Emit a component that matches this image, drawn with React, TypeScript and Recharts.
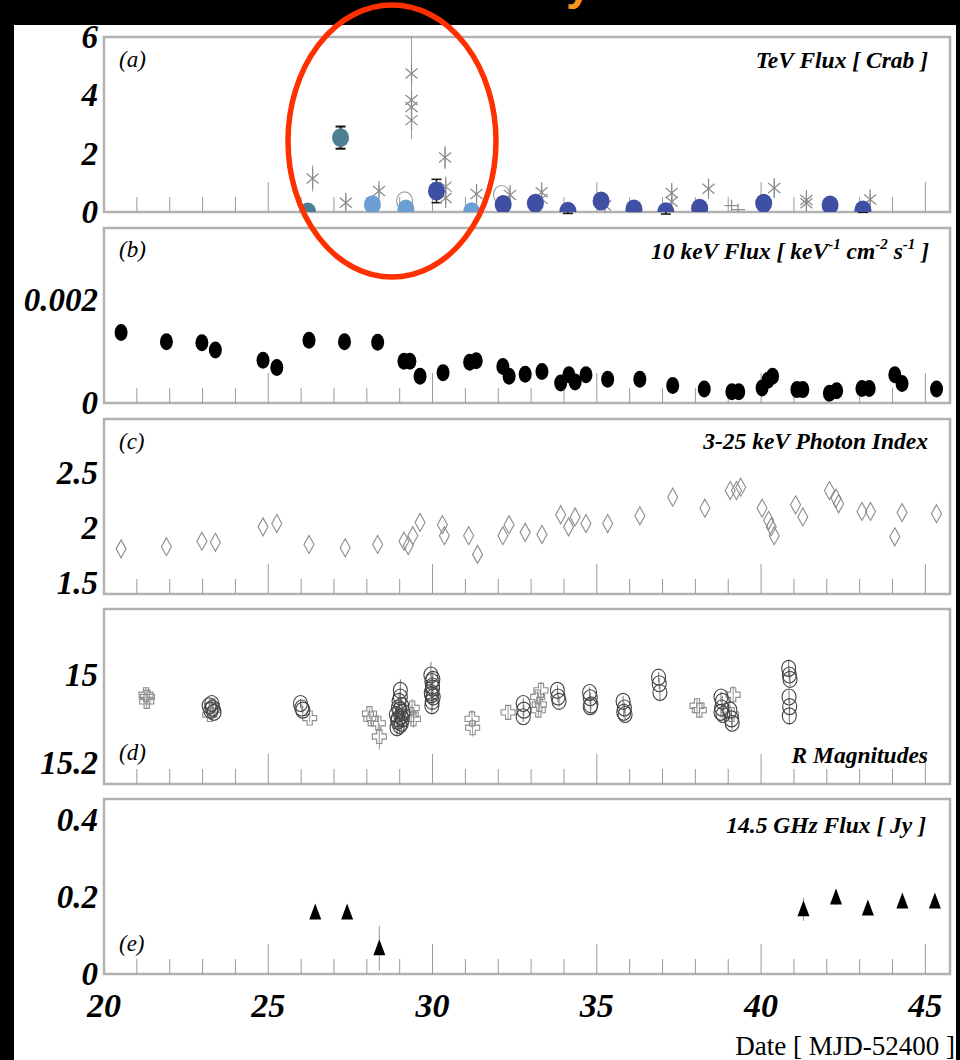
import React from 'react';
import {
  ScatterChart,
  Scatter,
  XAxis,
  YAxis,
  ReferenceLine,
  ReferenceArea,
  ErrorBar,
} from 'recharts';

// ---- shared time axis (MJD - 52400) ----
const X_DOMAIN: [number, number] = [20, 45.75];
const X_LABEL_TICKS = [20, 25, 30, 35, 40, 45];
const X_MINOR_TICKS = [21, 22, 23, 24, 25, 26, 27, 28, 29, 30, 31, 32, 33, 34, 35, 36, 37, 38, 39, 40, 41, 42, 43, 44, 45];

// ---- (a) TeV flux [Crab] ----
const tevTeal = [
  { x: 26.2, y: 0.0, e: 0 },
  { x: 27.2, y: 2.55, e: 0.38 },
];
const tevLight = [
  { x: 28.17, y: 0.25, e: 0 },
  { x: 29.19, y: 0.1, e: 0 },
  { x: 31.19, y: 0.01, e: 0 },
];
const tevNavy = [
  { x: 30.12, y: 0.72, e: 0.4 },
  { x: 32.15, y: 0.26, e: 0.1 },
  { x: 33.13, y: 0.3, e: 0.1 },
  { x: 34.12, y: 0.03, e: 0.08 },
  { x: 35.13, y: 0.38, e: 0.1 },
  { x: 36.13, y: 0.1, e: 0.08 },
  { x: 37.1, y: 0.01, e: 0.08 },
  { x: 38.13, y: 0.13, e: 0.08 },
  { x: 40.08, y: 0.3, e: 0.1 },
  { x: 42.1, y: 0.24, e: 0.08 },
  { x: 43.1, y: 0.07, e: 0.08 },
];
const tevStars = [
  { x: 26.35, y: 1.15, e: 0.45 },
  { x: 27.36, y: 0.32, e: 0.25 },
  { x: 28.37, y: 0.72, e: 0.2 },
  { x: 29.36, y: 4.75, e: 0 },
  { x: 29.36, y: 3.84, e: [1.34, 2.16] },
  { x: 29.36, y: 3.6, e: 0 },
  { x: 29.36, y: 3.15, e: 0 },
  { x: 30.38, y: 1.87, e: 0.4 },
  { x: 30.4, y: 0.87, e: 0.2 },
  { x: 30.4, y: 0.48, e: 0.2 },
  { x: 31.34, y: 0.62, e: 0.2 },
  { x: 32.36, y: 0.58, e: 0.25 },
  { x: 33.32, y: 0.68, e: 0.2 },
  { x: 33.32, y: 0.45, e: 0.2 },
  { x: 35.25, y: 0.22, e: 0.1 },
  { x: 37.28, y: 0.65, e: 0.25 },
  { x: 37.28, y: 0.35, e: 0.2 },
  { x: 38.4, y: 0.8, e: 0.3 },
  { x: 40.4, y: 0.82, e: 0.3 },
  { x: 41.38, y: 0.41, e: 0.15 },
  { x: 41.38, y: 0.3, e: 0.15 },
  { x: 43.32, y: 0.43, e: 0.2 },
];
const tevOpen = [
  { x: 29.15, y: 0.38 },
  { x: 32.1, y: 0.6 },
];
const tevPlus = [
  { x: 39.1, y: 0.22 },
  { x: 39.3, y: 0.08 },
];

// ---- (b) 10 keV flux [keV^-1 cm^-2 s^-1] ----
const xrayFlux = [
  { x: 20.52, y: 0.00137 }, { x: 21.9, y: 0.00119 }, { x: 22.98, y: 0.00117 },
  { x: 23.39, y: 0.00103 }, { x: 24.84, y: 0.00083 }, { x: 25.26, y: 0.00069 },
  { x: 26.24, y: 0.00122 }, { x: 27.32, y: 0.00119 }, { x: 28.33, y: 0.00118 },
  { x: 29.13, y: 0.00081 }, { x: 29.31, y: 0.00081 }, { x: 29.62, y: 0.00052 },
  { x: 30.32, y: 0.00059 }, { x: 31.13, y: 0.00079 }, { x: 31.33, y: 0.00082 },
  { x: 32.14, y: 0.00071 }, { x: 32.33, y: 0.00052 }, { x: 32.82, y: 0.00056 },
  { x: 33.33, y: 0.00061 }, { x: 33.9, y: 0.00039 }, { x: 34.15, y: 0.00055 },
  { x: 34.34, y: 0.00041 }, { x: 34.67, y: 0.00055 }, { x: 35.33, y: 0.00046 },
  { x: 36.31, y: 0.00046 }, { x: 37.31, y: 0.00034 }, { x: 38.27, y: 0.00027 },
  { x: 39.11, y: 0.00022 }, { x: 39.32, y: 0.00022 }, { x: 40.03, y: 0.00029 },
  { x: 40.21, y: 0.00044 }, { x: 40.35, y: 0.00052 }, { x: 41.09, y: 0.00026 },
  { x: 41.27, y: 0.00026 }, { x: 42.08, y: 0.00019 }, { x: 42.3, y: 0.00024 },
  { x: 43.07, y: 0.00028 }, { x: 43.29, y: 0.00028 }, { x: 44.07, y: 0.00055 },
  { x: 44.29, y: 0.00038 }, { x: 45.34, y: 0.00027 },
];

// ---- (c) 3-25 keV photon index ----
const photonIndex = [
  { x: 20.52, y: 1.81 }, { x: 21.9, y: 1.83 }, { x: 22.98, y: 1.88 }, { x: 23.39, y: 1.87 },
  { x: 24.84, y: 2.01 }, { x: 25.26, y: 2.04 }, { x: 26.24, y: 1.85 }, { x: 27.34, y: 1.82 },
  { x: 28.33, y: 1.85 }, { x: 29.13, y: 1.88 }, { x: 29.26, y: 1.84 }, { x: 29.4, y: 1.93 },
  { x: 29.62, y: 2.05 }, { x: 30.3, y: 2.03 }, { x: 30.36, y: 1.93 }, { x: 31.1, y: 1.93 },
  { x: 31.37, y: 1.76 }, { x: 32.14, y: 1.93 }, { x: 32.33, y: 2.03 }, { x: 32.82, y: 1.96 },
  { x: 33.33, y: 1.94 }, { x: 33.9, y: 2.12 }, { x: 34.14, y: 2.01 }, { x: 34.34, y: 2.1 },
  { x: 34.67, y: 2.04 }, { x: 35.33, y: 2.04 }, { x: 36.31, y: 2.11 }, { x: 37.31, y: 2.28 },
  { x: 38.29, y: 2.18 }, { x: 39.06, y: 2.34 }, { x: 39.25, y: 2.34 }, { x: 39.38, y: 2.37 },
  { x: 40.03, y: 2.18 }, { x: 40.23, y: 2.07 }, { x: 40.31, y: 2.01 }, { x: 40.4, y: 1.93 },
  { x: 41.05, y: 2.21 }, { x: 41.27, y: 2.1 }, { x: 42.08, y: 2.34 }, { x: 42.28, y: 2.27 },
  { x: 42.36, y: 2.22 }, { x: 43.07, y: 2.15 }, { x: 43.33, y: 2.15 }, { x: 44.07, y: 1.92 },
  { x: 44.29, y: 2.14 }, { x: 45.34, y: 2.13 },
];

// ---- (d) R magnitudes (two observatories: circles, crosses) ----
const rCircles = [
  { x: 23.2, y: 15.07, e: 0.012 }, { x: 23.25, y: 15.08, e: 0.012 }, { x: 23.3, y: 15.075, e: 0.012 },
  { x: 23.35, y: 15.085, e: 0.012 }, { x: 23.28, y: 15.065, e: 0.012 },
  { x: 25.98, y: 15.065, e: 0.01 }, { x: 26.02, y: 15.075, e: 0.01 }, { x: 26.05, y: 15.08, e: 0.01 },
  { x: 28.9, y: 15.09, e: 0.02 }, { x: 28.95, y: 15.1, e: 0.02 }, { x: 29.0, y: 15.08, e: 0.02 },
  { x: 29.05, y: 15.11, e: 0.02 }, { x: 28.92, y: 15.12, e: 0.02 }, { x: 28.98, y: 15.06, e: 0.02 },
  { x: 29.02, y: 15.05, e: 0.02 }, { x: 29.08, y: 15.1, e: 0.02 }, { x: 29.1, y: 15.085, e: 0.02 },
  { x: 28.96, y: 15.075, e: 0.02 }, { x: 29.04, y: 15.095, e: 0.02 }, { x: 29.0, y: 15.115, e: 0.02 },
  { x: 29.02, y: 15.035, e: 0.025 }, { x: 28.94, y: 15.105, e: 0.02 }, { x: 29.06, y: 15.07, e: 0.02 },
  { x: 29.95, y: 15.0, e: 0.03 }, { x: 29.98, y: 15.015, e: 0.02 }, { x: 30.0, y: 15.03, e: 0.02 },
  { x: 29.96, y: 15.04, e: 0.02 }, { x: 30.02, y: 15.05, e: 0.02 }, { x: 29.99, y: 15.06, e: 0.02 },
  { x: 30.0, y: 15.025, e: 0.02 }, { x: 29.97, y: 15.045, e: 0.02 }, { x: 30.01, y: 15.01, e: 0.02 },
  { x: 29.98, y: 15.07, e: 0.02 },
  { x: 32.76, y: 15.065, e: 0.012 }, { x: 32.78, y: 15.08, e: 0.012 }, { x: 32.76, y: 15.095, e: 0.012 },
  { x: 33.8, y: 15.035, e: 0.012 }, { x: 33.82, y: 15.05, e: 0.012 }, { x: 33.85, y: 15.06, e: 0.012 },
  { x: 34.78, y: 15.04, e: 0.012 }, { x: 34.8, y: 15.052, e: 0.012 }, { x: 34.82, y: 15.068, e: 0.012 },
  { x: 34.8, y: 15.072, e: 0.012 },
  { x: 35.8, y: 15.06, e: 0.012 }, { x: 35.84, y: 15.075, e: 0.012 }, { x: 35.82, y: 15.085, e: 0.012 },
  { x: 35.86, y: 15.09, e: 0.012 },
  { x: 36.88, y: 15.005, e: 0.012 }, { x: 36.9, y: 15.02, e: 0.012 }, { x: 36.92, y: 15.04, e: 0.02 },
  { x: 38.78, y: 15.05, e: 0.012 }, { x: 38.82, y: 15.06, e: 0.012 }, { x: 38.8, y: 15.075, e: 0.012 },
  { x: 38.84, y: 15.09, e: 0.012 }, { x: 38.78, y: 15.085, e: 0.012 },
  { x: 39.05, y: 15.08, e: 0.012 }, { x: 39.1, y: 15.1, e: 0.015 }, { x: 39.12, y: 15.11, e: 0.015 },
  { x: 40.84, y: 14.985, e: 0.02 }, { x: 40.86, y: 15.0, e: 0.015 }, { x: 40.88, y: 15.01, e: 0.015 },
  { x: 40.85, y: 15.05, e: 0.015 }, { x: 40.87, y: 15.072, e: 0.015 }, { x: 40.86, y: 15.093, e: 0.02 },
];
const rCrosses = [
  { x: 21.28, y: 15.045, e: 0.015 }, { x: 21.3, y: 15.06, e: 0.015 }, { x: 21.32, y: 15.05, e: 0.015 },
  { x: 23.22, y: 15.09, e: 0.012 }, { x: 23.3, y: 15.07, e: 0.012 }, { x: 23.33, y: 15.08, e: 0.012 },
  { x: 26.26, y: 15.098, e: 0.01 },
  { x: 28.08, y: 15.088, e: 0.012 }, { x: 28.12, y: 15.1, e: 0.012 },
  { x: 28.35, y: 15.11, e: 0.015 }, { x: 28.38, y: 15.14, e: 0.03 },
  { x: 29.38, y: 15.075, e: 0.02 }, { x: 29.42, y: 15.1, e: 0.02 }, { x: 29.35, y: 15.09, e: 0.02 },
  { x: 31.2, y: 15.1, e: 0.02 }, { x: 31.22, y: 15.12, e: 0.02 },
  { x: 32.3, y: 15.085, e: 0.015 },
  { x: 33.2, y: 15.05, e: 0.015 }, { x: 33.25, y: 15.067, e: 0.015 }, { x: 33.22, y: 15.08, e: 0.015 },
  { x: 33.3, y: 15.035, e: 0.02 },
  { x: 38.05, y: 15.07, e: 0.015 }, { x: 38.12, y: 15.08, e: 0.015 },
  { x: 39.15, y: 15.045, e: 0.02 }, { x: 39.1, y: 15.09, e: 0.015 },
];

// ---- (e) 14.5 GHz flux [Jy] ----
const radioFlux = [
  { x: 26.43, y: 0.16, e: 0.008 },
  { x: 27.4, y: 0.16, e: 0.008 },
  { x: 28.38, y: 0.067, e: 0.058 },
  { x: 41.29, y: 0.168, e: 0.03 },
  { x: 42.28, y: 0.199, e: 0.02 },
  { x: 43.25, y: 0.17, e: 0.015 },
  { x: 44.3, y: 0.188, e: 0.015 },
  { x: 45.29, y: 0.188, e: 0.015 },
];

// ---- layout ----
const PLOT_H = 175;
const M_TOP = 24;
const SERIF = '"Liberation Serif", "Times New Roman", serif';
const FRAME = '#b2b2b2';

// ---- marker shapes ----
const dot = (color: string, rx: number, ry: number) => (p: any) =>
  <ellipse cx={p.cx} cy={p.cy} rx={rx} ry={ry} fill={color} />;

const Asterisk = (p: any) => (
  <g stroke="#8a8a8a" strokeWidth={1.2}>
    <line x1={p.cx} y1={p.cy - 10} x2={p.cx} y2={p.cy + 10} />
    <line x1={p.cx - 6} y1={p.cy - 5} x2={p.cx + 6} y2={p.cy + 5} />
    <line x1={p.cx - 6} y1={p.cy + 5} x2={p.cx + 6} y2={p.cy - 5} />
  </g>
);

const ThinPlus = (p: any) => (
  <g stroke="#8a8a8a" strokeWidth={1.2}>
    <line x1={p.cx - 7} y1={p.cy} x2={p.cx + 7} y2={p.cy} />
    <line x1={p.cx} y1={p.cy - 6} x2={p.cx} y2={p.cy + 6} />
  </g>
);

const Diamond = (p: any) => (
  <path
    d={`M${p.cx},${p.cy - 9} L${p.cx + 5},${p.cy} L${p.cx},${p.cy + 9} L${p.cx - 5},${p.cy} Z`}
    fill="none"
    stroke="#8c8c8c"
    strokeWidth={1.1}
  />
);

const OpenCircle = (color: string, rx: number, ry: number) => (p: any) =>
  <ellipse cx={p.cx} cy={p.cy} rx={rx} ry={ry} fill="none" stroke={color} strokeWidth={1.1} />;

const OpenCross = (p: any) => {
  const a = 2.6;
  const L = 7;
  const { cx, cy } = p;
  const d = `M${cx - a},${cy - L} H${cx + a} V${cy - a} H${cx + L} V${cy + a} H${cx + a} V${cy + L} H${cx - a} V${cy + a} H${cx - L} V${cy - a} H${cx - a} Z`;
  return <path d={d} fill="none" stroke="#8c8c8c" strokeWidth={1.1} />;
};

const Triangle = (p: any) => (
  <path d={`M${p.cx},${p.cy - 9} L${p.cx + 6},${p.cy + 7} L${p.cx - 6},${p.cy + 7} Z`} fill="#000" />
);

// ---- axis tick labels ----
const YTick = (p: any) => (
  <text
    x={98}
    y={p.y}
    dy={11}
    textAnchor="end"
    fontFamily={SERIF}
    fontStyle="italic"
    fontWeight="bold"
    fontSize={33}
    fill="#000"
  >
    {String(p.payload.value)}
  </text>
);

const XTick = (p: any) => (
  <text
    x={p.x}
    y={p.y}
    dy={35}
    textAnchor="middle"
    fontFamily={SERIF}
    fontStyle="italic"
    fontWeight="bold"
    fontSize={34}
    fill="#000"
  >
    {String(p.payload.value)}
  </text>
);

type PanelProps = {
  top: number;
  domain: [number, number];
  yTicks: number[];
  reversed?: boolean;
  showX?: boolean;
  children?: React.ReactNode;
};

function Panel({ top, domain, yTicks, reversed, showX, children }: PanelProps) {
  const [lo, hi] = domain;
  const base = reversed ? hi : lo;
  const perPx = ((hi - lo) / PLOT_H) * (reversed ? -1 : 1);
  const xAxisH = showX ? 56 : 0;
  const mBottom = showX ? 2 : M_TOP;
  const height = M_TOP + PLOT_H + xAxisH + mBottom;
  return (
    <div style={{ position: 'absolute', left: 0, top: top - M_TOP }}>
      <ScatterChart width={960} height={height} margin={{ top: M_TOP, right: 10, bottom: mBottom, left: 14 }}>
        <XAxis
          type="number"
          dataKey="x"
          domain={X_DOMAIN}
          allowDataOverflow
          hide={!showX}
          height={xAxisH}
          ticks={X_LABEL_TICKS}
          interval={0}
          tickLine={false}
          axisLine={false}
          tick={XTick}
        />
        <YAxis
          type="number"
          dataKey="y"
          domain={domain}
          reversed={reversed}
          allowDataOverflow
          ticks={yTicks}
          interval={0}
          width={90}
          tickLine={false}
          axisLine={false}
          tick={YTick}
        />
        <ReferenceArea
          x1={X_DOMAIN[0]}
          x2={X_DOMAIN[1]}
          y1={lo}
          y2={hi}
          fill="none"
          stroke={FRAME}
          strokeWidth={2.5}
          ifOverflow="visible"
        />
        {X_MINOR_TICKS.map((t) => (
          <ReferenceLine
            key={`xt${t}`}
            segment={[
              { x: t, y: base },
              { x: t, y: base + (t % 5 === 0 ? 30 : 15) * perPx },
            ]}
            stroke="#9a9a9a"
            strokeWidth={1}
            ifOverflow="visible"
          />
        ))}
        {children}
      </ScatterChart>
    </div>
  );
}

export default function App() {
  return (
    <div style={{ position: 'absolute', left: 0, top: 0, width: 960, height: 1060, background: '#000', overflow: 'hidden' }}>
      <div style={{ position: 'absolute', left: 14, top: 25, width: 942, height: 1035, background: '#fff' }} />

      {/* (a) TeV flux */}
      <Panel top={37} domain={[0, 6]} yTicks={[0, 2, 4, 6]}>
        <Scatter data={tevStars} shape={Asterisk} isAnimationActive={false}>
          <ErrorBar dataKey="e" direction="y" width={0} stroke="#9a9a9a" strokeWidth={1} />
        </Scatter>
        <Scatter data={tevPlus} shape={ThinPlus} isAnimationActive={false} />
        <Scatter data={tevOpen} shape={OpenCircle('#9a9a9a', 8, 9)} isAnimationActive={false} />
        <Scatter data={tevTeal} shape={dot('#4d7f92', 8.5, 9.5)} isAnimationActive={false}>
          <ErrorBar dataKey="e" direction="y" width={5} stroke="#111" strokeWidth={2} />
        </Scatter>
        <Scatter data={tevLight} shape={dot('#6d9fd3', 8.5, 9.5)} isAnimationActive={false} />
        <Scatter data={tevNavy} shape={dot('#3f4fa3', 8.5, 9.5)} isAnimationActive={false}>
          <ErrorBar dataKey="e" direction="y" width={5} stroke="#111" strokeWidth={1.5} />
        </Scatter>
      </Panel>

      {/* (b) 10 keV flux */}
      <Panel top={228} domain={[0, 0.0034]} yTicks={[0, 0.002]}>
        <Scatter data={xrayFlux} shape={dot('#000', 6.5, 8.5)} isAnimationActive={false} />
      </Panel>

      {/* (c) photon index */}
      <Panel top={419} domain={[1.4, 2.99]} yTicks={[1.5, 2, 2.5]}>
        <Scatter data={photonIndex} shape={Diamond} isAnimationActive={false} />
      </Panel>

      {/* (d) R magnitudes */}
      <Panel top={609} domain={[14.85, 15.248]} yTicks={[15, 15.2]} reversed>
        <Scatter data={rCrosses} shape={OpenCross} isAnimationActive={false}>
          <ErrorBar dataKey="e" direction="y" width={0} stroke="#999" strokeWidth={1} />
        </Scatter>
        <Scatter data={rCircles} shape={OpenCircle('#444', 7, 8)} isAnimationActive={false}>
          <ErrorBar dataKey="e" direction="y" width={0} stroke="#777" strokeWidth={1} />
        </Scatter>
      </Panel>

      {/* (e) 14.5 GHz flux */}
      <Panel top={799} domain={[0, 0.4545]} yTicks={[0, 0.2, 0.4]} showX>
        <Scatter data={radioFlux} shape={Triangle} isAnimationActive={false}>
          <ErrorBar dataKey="e" direction="y" width={0} stroke="#999" strokeWidth={1} />
        </Scatter>
      </Panel>

      {/* panel titles, letters and annotation */}
      <svg
        width={960}
        height={1060}
        style={{ position: 'absolute', left: 0, top: 0, pointerEvents: 'none' }}
      >
        <text x={566} y={-1} fontFamily='"Liberation Sans", Arial, sans-serif' fontWeight="bold" fontSize={46} fill="#f7941d">y</text>

        <g fontFamily={SERIF} fontStyle="italic" fontSize={23} fill="#000">
          <text x={119} y={67}>(a)</text>
          <text x={119} y={257}>(b)</text>
          <text x={119} y={449}>(c)</text>
          <text x={119} y={760}>(d)</text>
          <text x={119} y={951}>(e)</text>
        </g>

        <g fontFamily={SERIF} fontStyle="italic" fontWeight="bold" fontSize={23.5} fill="#000" textAnchor="end">
          <text x={928} y={68}>TeV Flux [ Crab ]</text>
          <text x={929} y={259}>
            10 keV Flux [ keV
            <tspan fontSize={15} dy={-10}>-1</tspan>
            <tspan dy={10}> cm</tspan>
            <tspan fontSize={15} dy={-10}>-2</tspan>
            <tspan dy={10}> s</tspan>
            <tspan fontSize={15} dy={-10}>-1</tspan>
            <tspan dy={10}> ]</tspan>
          </text>
          <text x={928} y={449}>3-25 keV Photon Index</text>
          <text x={928} y={763}>R Magnitudes</text>
          <text x={926} y={833}>14.5 GHz Flux [ Jy ]</text>
        </g>

        <text x={955} y={1055} textAnchor="end" fontFamily={SERIF} fontSize={27} fill="#000">
          Date [ MJD-52400 ]
        </text>

        <ellipse cx={392} cy={141} rx={104} ry={136} fill="none" stroke="#ff3000" strokeWidth={5.5} />
      </svg>
    </div>
  );
}
